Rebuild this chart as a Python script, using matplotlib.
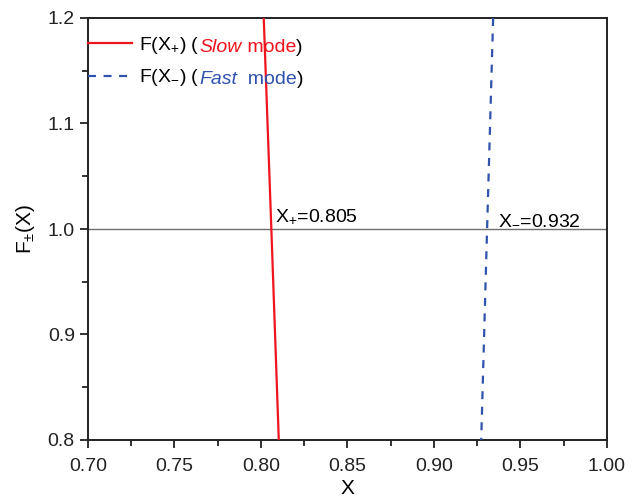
import matplotlib
matplotlib.use("Agg")
import matplotlib.pyplot as plt
from matplotlib.ticker import MultipleLocator
from matplotlib.lines import Line2D

plt.rcParams['font.family'] = ['Liberation Sans', 'DejaVu Sans']
plt.rcParams['mathtext.fontset'] = 'custom'
plt.rcParams['mathtext.rm'] = 'Liberation Sans'
plt.rcParams['mathtext.it'] = 'Liberation Sans:italic'

# Data
x_slow = [0.8016, 0.8060, 0.8103]
y_slow = [1.2, 1.0, 0.8]
x_fast = [0.9342, 0.9307, 0.9273]
y_fast = [1.2, 1.0, 0.8]
root_slow = 0.805
root_fast = 0.932
ref_level = 1.0

red = '#f0141e'
blue = '#2f52ad'
dash = (0, (3.6, 3.4))

fig = plt.figure(figsize=(6.44, 5.00), dpi=100)
ax = fig.add_axes([0.1366, 0.12, 0.9425 - 0.1366, 0.964 - 0.12])

ax.axhline(ref_level, color='#707070', lw=1.0, zorder=1)
ax.plot(x_slow, y_slow, color=red, lw=1.6, zorder=3)
ax.plot(x_fast, y_fast, color=blue, lw=1.6, ls=dash, zorder=3)

ax.set_xlim(0.70, 1.00)
ax.set_ylim(0.8, 1.2)
ax.xaxis.set_major_locator(MultipleLocator(0.05))
ax.xaxis.set_minor_locator(MultipleLocator(0.025))
ax.yaxis.set_major_locator(MultipleLocator(0.1))
ax.yaxis.set_minor_locator(MultipleLocator(0.05))
ax.xaxis.set_major_formatter(matplotlib.ticker.FormatStrFormatter('%.2f'))
ax.yaxis.set_major_formatter(matplotlib.ticker.FormatStrFormatter('%.1f'))
ax.tick_params(which='both', direction='out', top=False, right=False,
               labelsize=14, width=1.3, colors='#222222')
ax.tick_params(which='major', length=6)
ax.tick_params(which='minor', length=4)
ax.tick_params(axis='x', which='major', pad=7)
for s in ax.spines.values():
    s.set_linewidth(1.4)
    s.set_color('#222222')

ax.set_xlabel('X', fontsize=15, labelpad=3)
ax.set_ylabel(r'F$_{\pm}$(X)', fontsize=15, labelpad=8)

ax.text(root_slow + 0.003, ref_level + 0.0075, r'X$_{+}$=' + f'{root_slow:.3f}',
        fontsize=14, ha='left', va='baseline')
ax.text(root_fast + 0.005, ref_level + 0.005, r'X$_{-}$=' + f'{root_fast:.3f}',
        fontsize=14, ha='left', va='baseline')

handles = [Line2D([], [], color=red, lw=1.6),
           Line2D([], [], color=blue, lw=1.6, ls=dash)]
leg = ax.legend(handles, [r'F(X$_{+}$) (', r'F(X$_{-}$) ('], loc='upper left',
                bbox_to_anchor=(0.0, 0.959),
                frameon=False, fontsize=14, handlelength=2.27, handletextpad=0.36,
                borderaxespad=0.0, borderpad=0.0, labelspacing=0.57)
texts = leg.get_texts()
fig.canvas.draw()

def chain(prev, s, color, style='normal'):
    return ax.annotate(s, xy=(1, 0), xycoords=prev, xytext=(0, 0),
                       textcoords='offset points', va='bottom', ha='left',
                       fontsize=14, color=color, style=style)

a = chain(texts[0], 'Slow', red, 'italic')
b = chain(a, ' mode', red)
chain(b, ')', 'black')
a = chain(texts[1], 'Fast', blue, 'italic')
b = chain(a, '  mode', blue)
chain(b, ')', 'black')

fig.savefig('out.png', dpi=100)
